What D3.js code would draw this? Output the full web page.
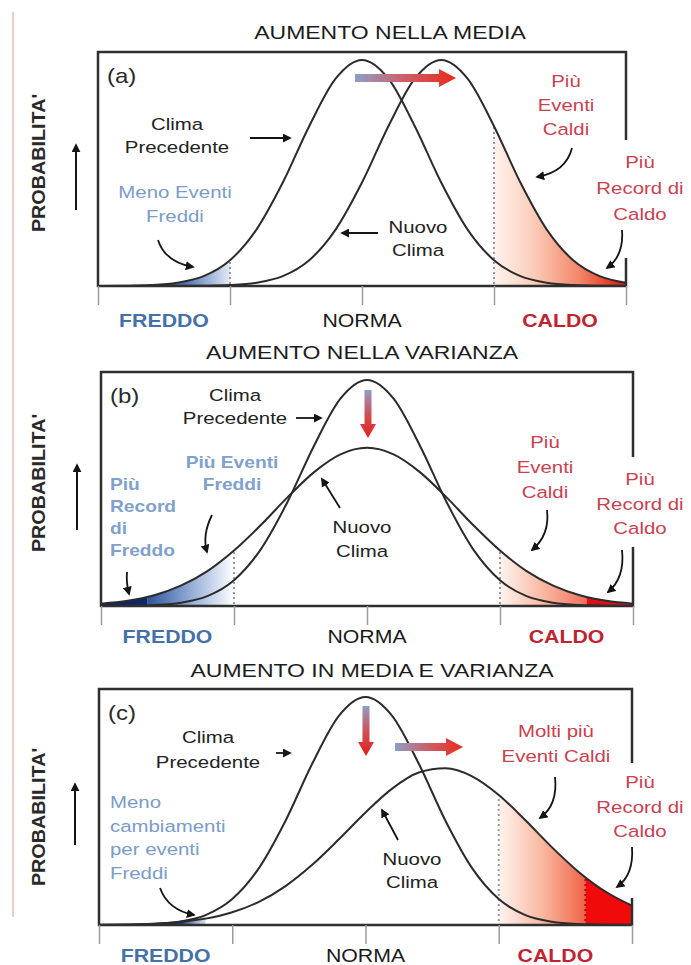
<!DOCTYPE html>
<html>
<head>
<meta charset="utf-8">
<script src="https://cdn.jsdelivr.net/npm/d3@7"></script>
<style>
  body { margin: 0; background: #fff; }
  svg { display: block; }
  text { font-family: "Liberation Sans", Arial, Helvetica, sans-serif; }
</style>
</head>
<body>
<svg id="chart" width="691" height="965"></svg>
<script>
// ---- data -------------------------------------------------------------
// Positions along the temperature axis (axis tick units)
const tempSteps = [-2.0,-1.8,-1.6,-1.4,-1.2,-1.0,-0.8,-0.6,-0.4,-0.2,0,0.2,0.4,0.6,0.8,1.0,1.2,1.4,1.6,1.8,2.0];
// Relative probability at each step (1 = top of the frame)
const climaPrecedente        = [0,0.001,0.004,0.014,0.042,0.110,0.241,0.442,0.683,0.886,0.966,0.886,0.683,0.442,0.241,0.110,0.042,0.014,0.004,0.001,0];
const nuovoClimaMedia        = [0,0,0,0,0.001,0.004,0.014,0.042,0.110,0.241,0.442,0.683,0.886,0.966,0.886,0.683,0.442,0.241,0.110,0.042,0.014];
const nuovoClimaVarianza     = [0.010,0.022,0.046,0.087,0.149,0.237,0.345,0.463,0.571,0.648,0.676,0.648,0.571,0.463,0.345,0.237,0.149,0.087,0.046,0.022,0.010];
const nuovoClimaMediaVarianza= [0.001,0.002,0.005,0.013,0.027,0.054,0.098,0.165,0.255,0.363,0.477,0.578,0.646,0.664,0.630,0.551,0.444,0.329,0.225,0.142,0.082];

const axisTicks    = [-2, -1, 0, 1, 2];
const axisNames    = ["FREDDO", "NORMA", "CALDO"];
const axisNamePos  = [-1.5, 0, 1.5];
const panelTitles  = ["AUMENTO NELLA MEDIA", "AUMENTO NELLA VARIANZA", "AUMENTO IN MEDIA E VARIANZA"];
const panelTags    = ["(a)", "(b)", "(c)"];
const coldLimit    = -1;     // threshold of cold events
const warmLimit    = 1;      // threshold of warm events
const recordLimit  = 1.65;   // threshold of records

// ---- style ------------------------------------------------------------
const DARK = "#222", BLUE_L = "#7b9bca", BLUE_B = "#4670a8", RED_L = "#c9414f", RED_B = "#bf2430";
const SX = 1.2;

const svg = d3.select("#chart");
const defs = svg.append("defs");

defs.append("marker").attr("id", "tip")
  .attr("viewBox", "0 0 10 10").attr("refX", 8).attr("refY", 5)
  .attr("markerWidth", 9).attr("markerHeight", 9)
  .attr("markerUnits", "userSpaceOnUse").attr("orient", "auto")
  .append("path").attr("d", "M0,0 L10,5 L0,10 Z").attr("fill", "#151515");

function linGrad(id, x1, y1, x2, y2, stops) {
  const g = defs.append("linearGradient").attr("id", id)
    .attr("gradientUnits", "userSpaceOnUse")
    .attr("x1", x1).attr("y1", y1).attr("x2", x2).attr("y2", y2);
  stops.forEach(s => g.append("stop").attr("offset", s[0]).attr("stop-color", s[1]).attr("stop-opacity", s[2] == null ? 1 : s[2]));
  return `url(#${id})`;
}

function addText(g, x, y, str, o) {
  return g.append("text")
    .attr("transform", `translate(${x},${y}) scale(${o.sx || SX},1)`)
    .attr("text-anchor", o.anchor || "middle")
    .attr("font-size", o.size || 17)
    .attr("font-weight", o.weight || "normal")
    .attr("fill", o.color || DARK)
    .text(str);
}

// page margin rule
svg.append("line").attr("x1", 13).attr("x2", 13).attr("y1", 12).attr("y2", 917)
  .attr("stroke", "#efc9cd").attr("stroke-width", 2);

// ---- panel layout -----------------------------------------------------
const panels = [
  { left: 98, right: 626, top: 52, bottom: 286, titleX: 390, titleY: 39, nameY: 327, nameShift: 0, probY: 163, upArrow: [76, 210, 143],
    series: nuovoClimaMedia, gap: [140, 258],
    notes: [
      { lines: ["Clima", "Precedente"], x: 177, y: 130, lh: 23 },
      { lines: ["Meno Eventi", "Freddi"], x: 175, y: 198, lh: 24, color: BLUE_L },
      { lines: ["Nuovo", "Clima"], x: 418, y: 233, lh: 23 },
      { lines: ["Più", "Eventi", "Caldi"], x: 566, y: 87, lh: 24, color: RED_L },
      { lines: ["Più", "Record di", "Caldo"], x: 640, y: 168, lh: 26, color: RED_L }
    ],
    pointers: ["M250,138 L290,138", "M158,240 Q165,262 193,267", "M378,233 L342,233",
               "M572,148 Q566,172 537,177", "M622,230 Q624,256 607,268"],
    fat: [{ dir: "h", a: 355, b: 456, c: 78 }] },
  { left: 101, right: 633, top: 372, bottom: 606, titleX: 362, titleY: 359, nameY: 643, nameShift: 0, probY: 483, upArrow: [77, 530, 463],
    series: nuovoClimaVarianza, gap: [457, 547],
    notes: [
      { lines: ["Clima", "Precedente"], x: 235, y: 401, lh: 23 },
      { lines: ["Più Eventi", "Freddi"], x: 232, y: 468, lh: 22, color: "#7fa1cd", weight: "bold", size: 16 },
      { lines: ["Più", "Record", "di", "Freddo"], x: 110, y: 490, lh: 22, color: "#7fa1cd", weight: "bold", size: 16, anchor: "start" },
      { lines: ["Nuovo", "Clima"], x: 362, y: 533, lh: 24 },
      { lines: ["Più", "Eventi", "Caldi"], x: 545, y: 448, lh: 25, color: RED_L },
      { lines: ["Più", "Record di", "Caldo"], x: 640, y: 485, lh: 24.5, color: RED_L }
    ],
    pointers: ["M296,418 L321,418", "M212,515 Q202,535 207,552", "M127,572 Q126,582 129,594",
               "M340,508 L322,479", "M547,510 Q550,535 532,550", "M622,550 Q625,578 608,592"],
    fat: [{ dir: "v", a: 390, b: 438, c: 368 }] },
  { left: 99, right: 632, top: 689, bottom: 925, titleX: 372, titleY: 677, nameY: 962, nameShift: -10, probY: 817, upArrow: [75, 845, 782],
    series: nuovoClimaMediaVarianza, gap: [763, 898],
    notes: [
      { lines: ["Clima", "Precedente"], x: 208, y: 743, lh: 25 },
      { lines: ["Meno", "cambiamenti", "per eventi", "Freddi"], x: 110, y: 808, lh: 23.5, color: BLUE_L, anchor: "start" },
      { lines: ["Nuovo", "Clima"], x: 412, y: 865, lh: 23 },
      { lines: ["Molti più", "Eventi Caldi"], x: 556, y: 737, lh: 25, color: RED_L },
      { lines: ["Più", "Record di", "Caldo"], x: 640, y: 788, lh: 24.5, color: RED_L }
    ],
    pointers: ["M276,753 L290,753", "M160,888 Q168,910 194,915", "M398,840 L382,810",
               "M555,777 Q558,805 540,818", "M632,847 Q634,875 617,887"],
    fat: [{ dir: "v", a: 706, b: 756, c: 366 }, { dir: "h", a: 395, b: 463, c: 747 }] }
];

panels.forEach((p, i) => {
  const g = svg.append("g");
  const x = d3.scaleLinear().domain([-2, 2]).range([p.left, p.right]);
  const y = d3.scaleLinear().domain([0, 1]).range([p.bottom, p.top]);

  const oldPts = tempSteps.map((t, k) => [t, climaPrecedente[k]]);
  const newPts = tempSteps.map((t, k) => [t, p.series[k]]);

  const area = d3.area().x(d => x(d[0])).y0(y(0)).y1(d => y(d[1])).curve(d3.curveMonotoneX);
  const line = d3.line().x(d => x(d[0])).y(d => y(d[1])).curve(d3.curveMonotoneX);

  // clip regions under each curve
  defs.append("clipPath").attr("id", `under-old-${i}`).append("path").attr("d", area(oldPts));
  defs.append("clipPath").attr("id", `under-new-${i}`).append("path").attr("d", area(newPts));

  function band(id, from, to) {
    defs.append("clipPath").attr("id", id).append("rect")
      .attr("x", x(from)).attr("y", p.top).attr("width", x(to) - x(from)).attr("height", p.bottom - p.top);
    return `url(#${id})`;
  }

  function shade(pts, from, to, fill, key) {
    g.append("g").attr("clip-path", band(`band-${key}-${i}`, from, to))
      .append("path").attr("d", area(pts)).attr("fill", fill);
  }

  // ---- shaded tails ----
  if (i === 0) {
    shade(newPts, warmLimit, 2, linGrad("warm0", x(warmLimit), 0, x(2), 0,
      [[0, "#fff4ef"], [0.3, "#fbcdb9"], [0.65, "#f28569"], [0.86, "#e8442d"], [1, "#d81010"]]), "w");
    shade(oldPts, -1.6, coldLimit, linGrad("cold0", x(-1.6), 0, x(coldLimit), 0,
      [[0, "#1e3c80"], [0.45, "#5476b4"], [1, "#e4eaf5"]]), "c");
  } else {
    shade(newPts, warmLimit, recordLimit, linGrad(`warm${i}`, x(warmLimit), 0, x(recordLimit), 0,
      [[0, "#fff4ef"], [0.5, "#f8b8a2"], [1, i === 1 ? "#f0705e" : "#f06448"]]), "w");
    shade(newPts, recordLimit, 2, i === 1 ? "#de1016" : "#f00a0a", "r");
    if (i === 1) {
      shade(newPts, -recordLimit, coldLimit, linGrad("cold1", x(-recordLimit), 0, x(coldLimit), 0,
        [[0, "#2f559c"], [0.5, "#93acd6"], [1, "#ffffff"]]), "c");
      shade(newPts, -2, -recordLimit, "#0d2766", "rc");
    } else {
      shade(oldPts, -1.65, -1.2, linGrad("cold2", x(-1.65), 0, x(-1.2), 0,
        [[0, "#0e2a66"], [0.6, "#20407e"], [1, "#6f8cc0", 0.3]]), "c");
    }
  }

  // ---- dotted thresholds ----
  const dotted = [];
  if (i === 0) dotted.push([coldLimit, "old", "#9a9a9a"], [warmLimit, "new", "#9a9a9a"]);
  if (i === 1) dotted.push([coldLimit, "new", "#9a9a9a"], [warmLimit, "new", "#9a9a9a"]);
  if (i === 2) dotted.push([warmLimit, "new", "#9a9a9a"], [recordLimit, "new", "#a40d0d"]);
  dotted.forEach(([t, which, col]) => {
    g.append("line").attr("clip-path", `url(#under-${which}-${i})`)
      .attr("x1", x(t)).attr("x2", x(t)).attr("y1", p.top).attr("y2", p.bottom)
      .attr("stroke", col).attr("stroke-width", 2).attr("stroke-dasharray", "2,3");
  });

  // ---- distributions ----
  g.append("path").attr("d", line(oldPts)).attr("fill", "none").attr("stroke", "#2b2b2b").attr("stroke-width", 2);
  g.append("path").attr("d", line(newPts)).attr("fill", "none").attr("stroke", "#2b2b2b").attr("stroke-width", 2);

  // ---- frame ----
  const fr = g.append("g").attr("stroke", "#2f2f2f").attr("stroke-width", 2.5).attr("fill", "none");
  fr.append("path").attr("d", `M${p.right},${p.gap[0]} V${p.top} H${p.left} V${p.bottom} H${p.right} V${p.gap[1]}`);

  // ---- axis ticks ----
  const axis = d3.axisBottom(x).tickValues(axisTicks).tickSize(19).tickFormat("");
  const ax = g.append("g").attr("transform", `translate(0,${p.bottom})`).call(axis);
  ax.select(".domain").remove();
  ax.selectAll(".tick line").attr("stroke", "#9c9c9c").attr("stroke-width", 1.5);

  axisNames.forEach((n, k) => {
    addText(g, x(axisNamePos[k]) + (k === 2 ? p.nameShift : 0), p.nameY, n, {
      size: 19, sx: 1.12,
      weight: k === 1 ? "normal" : "bold",
      color: k === 0 ? BLUE_B : k === 2 ? RED_B : "#1a1a1a"
    });
  });

  // ---- title, tag, y label ----
  addText(g, p.titleX, p.titleY, panelTitles[i], { size: 19, sx: 1.21, color: "#1c1c1c" });
  addText(g, p.left + 9, p.top + 31, panelTags[i], { size: 20, anchor: "start", color: "#2a2a2a" });

  g.append("text")
    .attr("transform", `translate(45,${p.probY}) rotate(-90) scale(1.04,1)`)
    .attr("text-anchor", "middle").attr("font-size", 19).attr("font-weight", "bold")
    .attr("fill", "#2a2a2a").text("PROBABILITA'");
  g.append("line").attr("x1", p.upArrow[0]).attr("x2", p.upArrow[0])
    .attr("y1", p.upArrow[1]).attr("y2", p.upArrow[2] + 2)
    .attr("stroke", "#151515").attr("stroke-width", 2).attr("marker-end", "url(#tip)");

  // ---- shift / spread arrows ----
  p.fat.forEach((f, k) => {
    const id = `fat${i}-${k}`;
    let d, fill;
    if (f.dir === "h") {
      const hb = f.b - 17;
      d = `M${f.a},${f.c - 4} H${hb} V${f.c - 9} L${f.b},${f.c} L${hb},${f.c + 9} V${f.c + 4} H${f.a} Z`;
      fill = linGrad(id, f.a, 0, f.b, 0, [[0, "#8d9fc7"], [0.5, "#cf5d66"], [1, "#e82a1a"]]);
    } else {
      const hb = f.b - 14;
      d = `M${f.c - 3.5},${f.a} V${hb} H${f.c - 8} L${f.c},${f.b} L${f.c + 8},${hb} H${f.c + 3.5} V${f.a} Z`;
      fill = linGrad(id, 0, f.a, 0, f.b, [[0, "#8d9fc7"], [0.5, "#d05058"], [1, "#e2201a"]]);
    }
    g.append("path").attr("d", d).attr("fill", fill);
  });

  // ---- annotations ----
  p.notes.forEach(n => {
    n.lines.forEach((s, k) => addText(g, n.x, n.y + k * n.lh, s, {
      size: n.size || 17, color: n.color || DARK, weight: n.weight, anchor: n.anchor
    }));
  });
  p.pointers.forEach(d => {
    g.append("path").attr("d", d).attr("fill", "none")
      .attr("stroke", "#151515").attr("stroke-width", 1.8).attr("marker-end", "url(#tip)");
  });
});
</script>
</body>
</html>
